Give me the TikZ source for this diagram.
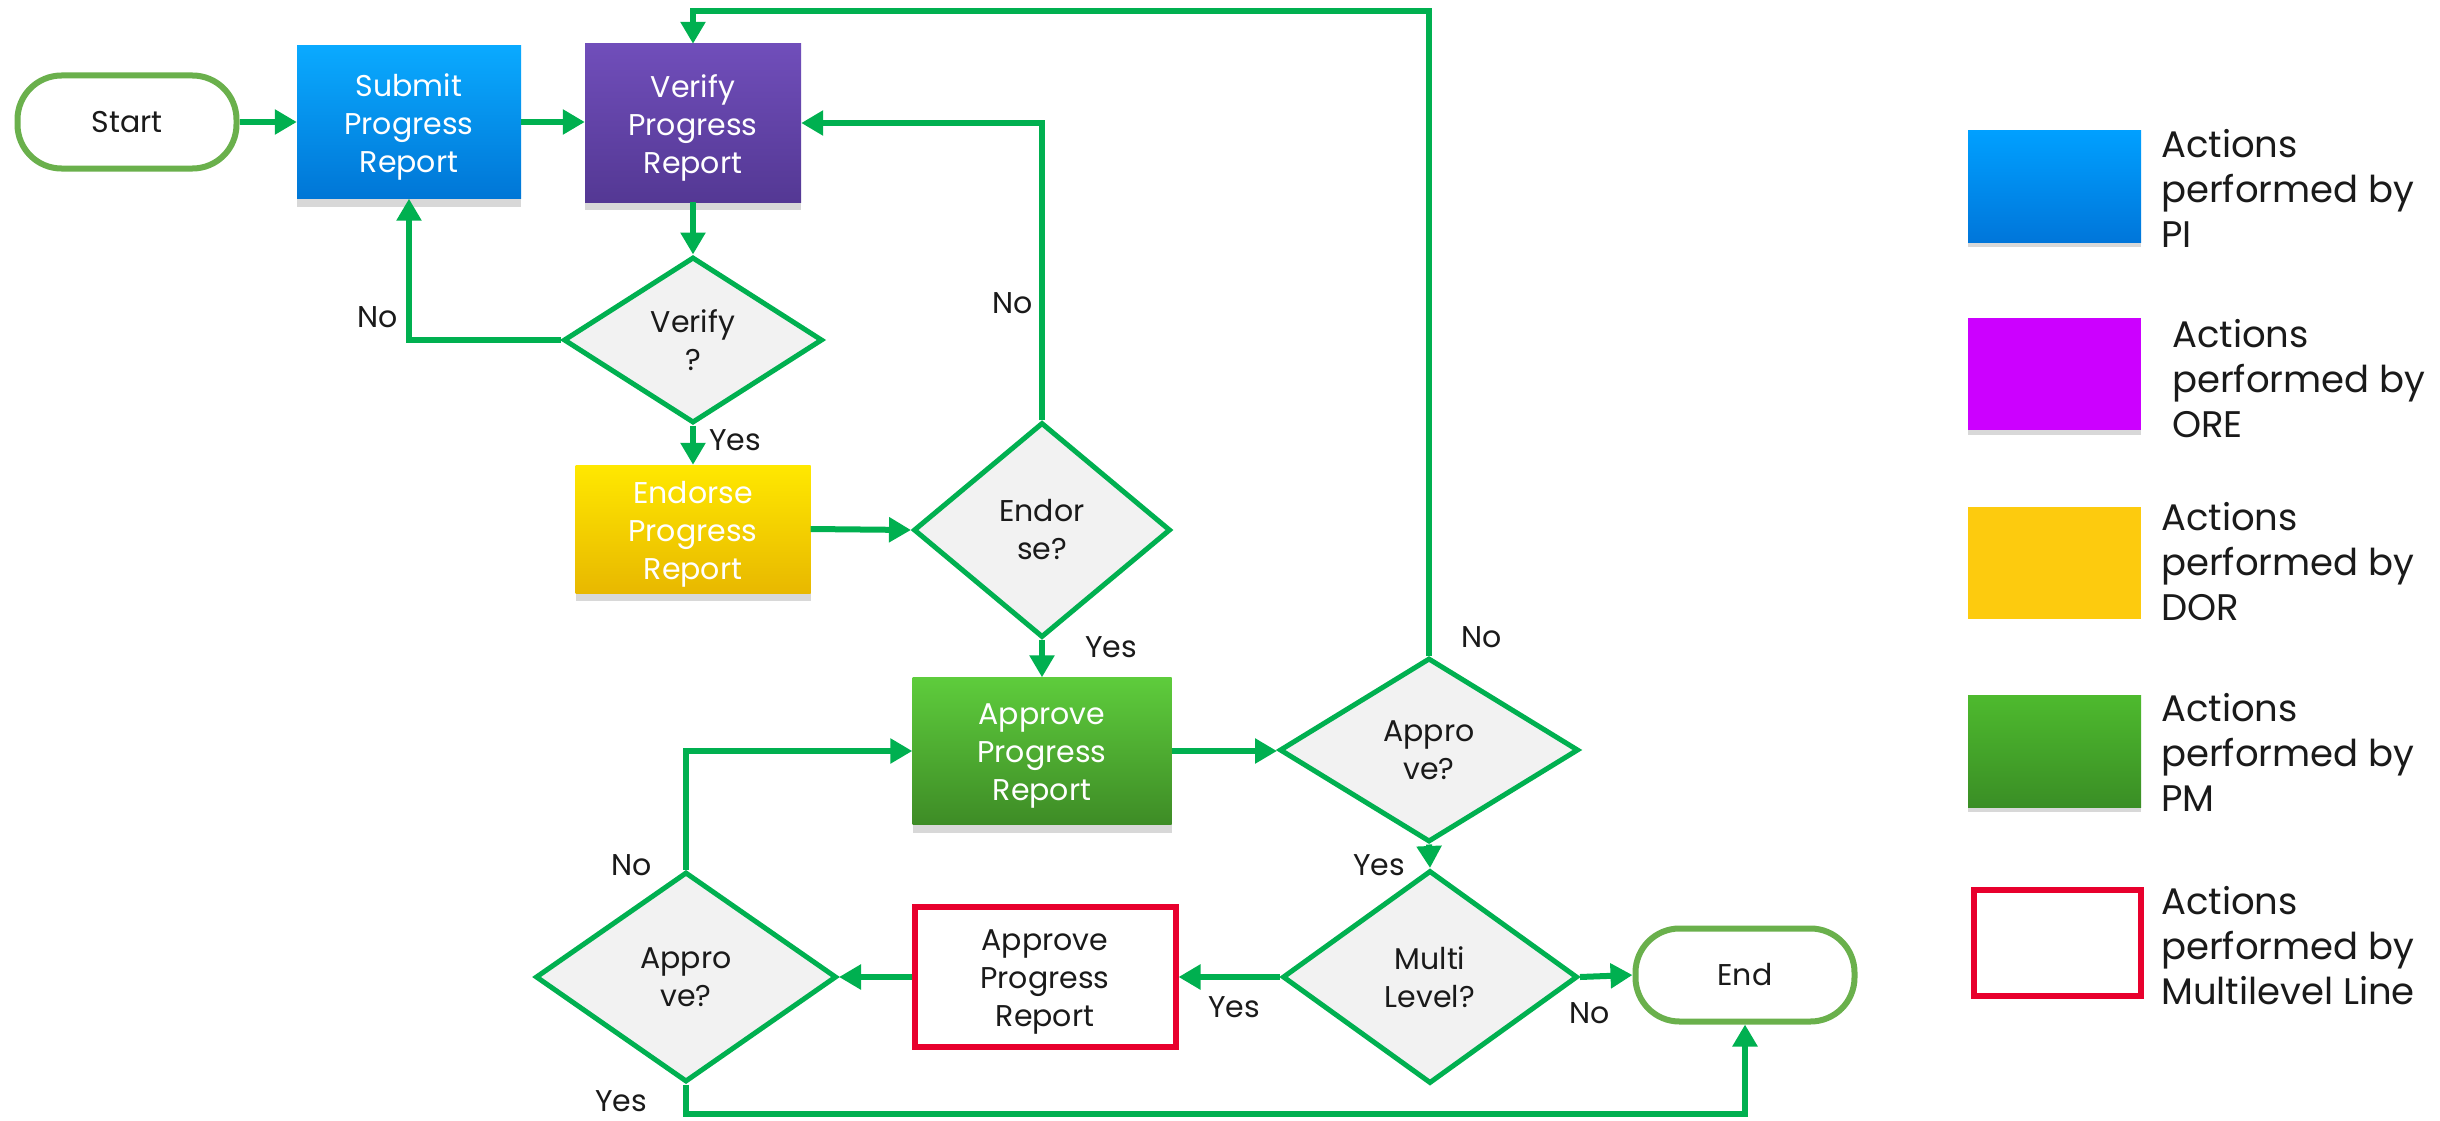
\documentclass[tikz,border=0pt]{standalone}
\usepackage{fontspec}
\setmainfont{Poppins}
\usetikzlibrary{arrows.meta,shapes.geometric,shadows,calc}
\definecolor{lineg}{HTML}{00B050}
\definecolor{termg}{HTML}{6AB04C}
\definecolor{dfill}{HTML}{F2F2F2}
\definecolor{redb}{HTML}{E8002D}
\definecolor{txt}{HTML}{1A1A1A}
\begin{document}
\begin{tikzpicture}[x=1pt,y=-1pt,
  font=\fontsize{30}{38}\selectfont,
  flow/.style={draw=lineg,line width=6pt,-{Triangle[length=22pt,width=24pt]}},
  term/.style={draw=termg,line width=6pt,fill=white,rounded corners=44pt,
    minimum width=219pt,minimum height=93pt,text=txt,inner sep=0pt},
  box/.style={minimum width=#1,inner sep=0pt,text=white,align=center,
    drop shadow={opacity=0.3,shadow xshift=0pt,shadow yshift=-8pt}},
  boxtext/.style={text=white,align=center,inner sep=0pt},
  dia/.style={diamond,draw=lineg,line width=5pt,fill=dfill,inner sep=0pt,
    align=center,text=txt},
  lab/.style={text=txt,inner sep=0pt},
  leg/.style={font=\fontsize{37}{45}\selectfont,text=txt,align=left,anchor=base west,inner sep=0pt},
  legbox/.style={minimum width=173pt,minimum height=112pt,inner sep=0pt,anchor=north west}
]
\useasboundingbox (0,0) rectangle (2440,1121);
\fill[white] (0,0) rectangle (2440,1121);

% nodes
\node[term] (start) at (127,122) {Start};
\node[box=224pt,minimum height=153pt,top color={rgb,255:red,10;green,170;blue,255},
  bottom color={rgb,255:red,0;green,118;blue,214}] (submit) at (409,122) {};
\node[boxtext] (submitT) at ([yshift=-5pt]submit.center) {Submit\\Progress\\Report};
\node[box=216pt,minimum height=158pt,top color={rgb,255:red,112;green,78;blue,186},
  bottom color={rgb,255:red,84;green,56;blue,148}] (verify) at (693,123) {};
\node[boxtext] (verifyT) at ([yshift=-5pt]verify.center) {Verify\\Progress\\Report};
\node[dia,minimum width=259pt,minimum height=166pt] (vq) at (693,340) {Verify\\?};
\node[box=235pt,minimum height=128pt,top color={rgb,255:red,255;green,232;blue,0},
  bottom color={rgb,255:red,232;green,184;blue,0}] (endorse) at (693,529) {};
\node[boxtext] (endorseT) at ([yshift=-5pt]endorse.center) {Endorse\\Progress\\Report};
\node[dia,minimum width=257pt,minimum height=215pt] (eq) at (1042,530) {Endor\\se?};
\node[box=259pt,minimum height=147pt,top color={rgb,255:red,94;green,204;blue,60},
  bottom color={rgb,255:red,62;green,140;blue,38}] (approve) at (1042,751) {};
\node[boxtext] (approveT) at ([yshift=-5pt]approve.center) {Approve\\Progress\\Report};
\node[dia,minimum width=299pt,minimum height=184pt] (aq) at (1429,750) {Appro\\ve?};
\node[dia,minimum width=295pt,minimum height=213pt] (mq) at (1430,977) {Multi\\Level?};
\node[term] (end) at (1745,975) {End};
\node[draw=redb,line width=6pt,fill=white,minimum width=261pt,minimum height=140pt,
  inner sep=0pt] (red) at (1045,977) {};
\node[boxtext,text=txt] (redT) at ([yshift=-5pt]red.center) {Approve\\Progress\\Report};
\node[dia,minimum width=301pt,minimum height=210pt] (lq) at (686,977) {Appro\\ve?};

% connectors
\draw[flow] (start.east) -- (submit.west);
\draw[flow] (submit.east) -- (submit.east -| verify.west);
\draw[flow] (verify.south) -- (vq.north);
\draw[flow] (vq.west) -| (submit.south);
\draw[flow] (vq.south) -- (endorse.north);
\draw[flow] (endorse.east) -- (eq.west);
\draw[flow] (eq.north) |- (verify.east);
\draw[flow] (eq.south) -- (approve.north);
\draw[flow] (approve.east) -- (approve.east -| aq.west);
\coordinate (topc) at (693,11);
\draw[flow] (aq.north) |- (topc) -- (verify.north);
\draw[flow] (aq.south) -- (mq.north);
\draw[flow] (mq.west) -- (red.east);
\draw[flow] (mq.east) -- (end.west);
\draw[flow] (red.west) -- (lq.east);
\draw[flow] (lq.north) |- (approve.west);
\coordinate (botc) at (1200,1114);
\draw[flow] (lq.south) |- (botc) -| (end.south);

% labels
\node[lab] (l1) at (378,317) {No};
\node[lab] (l2) at (735,440) {Yes};
\node[lab] (l3) at (1013,303) {No};
\node[lab] (l4) at (1111,647) {Yes};
\node[lab] (l5) at (1482,637) {No};
\node[lab] (l6) at (1379,865) {Yes};
\node[lab] (l7) at (1234,1007) {Yes};
\node[lab] (l8) at (1590,1013) {No};
\node[lab] (l9) at (632,865) {No};
\node[lab] (l10) at (621,1101) {Yes};

% legend
\node[legbox,top color={rgb,255:red,0;green,160;blue,255},bottom color={rgb,255:red,0;green,118;blue,218},
  drop shadow={opacity=0.3,shadow xshift=0pt,shadow yshift=-5pt}] (k1) at (1968,130) {};
\node[legbox,fill={rgb,255:red,204;green,0;blue,255},
  drop shadow={opacity=0.3,shadow xshift=0pt,shadow yshift=-5pt}] (k2) at (1968,318) {};
\node[legbox,fill={rgb,255:red,253;green,203;blue,14}] (k3) at (1968,507) {};
\node[legbox,top color={rgb,255:red,78;green,186;blue,46},bottom color={rgb,255:red,58;green,142;blue,37},
  drop shadow={opacity=0.3,shadow xshift=0pt,shadow yshift=-5pt}] (k4) at (1968,695) {};
\node[legbox,draw=redb,line width=6pt,fill=white,minimum width=167pt,minimum height=106pt] (k5) at (1971,887) {};
\node[leg] (t1) at (2161,247) {Actions\\performed by\\PI};
\node[leg] (t2) at (2172,437) {Actions\\performed by\\ORE};
\node[leg] (t3) at (2161,620) {Actions\\performed by\\DOR};
\node[leg] (t4) at (2161,811) {Actions\\performed by\\PM};
\node[leg] (t5) at (2161,1004) {Actions\\performed by\\Multilevel Line};
\end{tikzpicture}
\end{document}
